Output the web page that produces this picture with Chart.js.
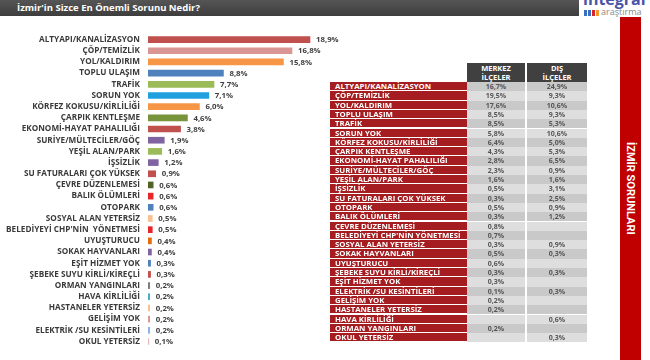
<!DOCTYPE html>
<html>
<head>
<meta charset="utf-8">
<script src="https://cdn.jsdelivr.net/npm/chart.js@4.4.0/dist/chart.umd.min.js"></script>
<style>
  html, body { margin:0; padding:0; background:#fff; width:650px; height:360px; overflow:hidden; font-family:"Open Sans", sans-serif; }
  #titlebar { position:absolute; left:0; top:0; width:579px; height:16px; background:linear-gradient(#555,#3d3d3d); }
  #title { position:absolute; left:17px; top:1px; color:#fff; font:bold 9.5px "Open Sans", sans-serif; line-height:14px; white-space:nowrap; }
  #chartWrap { position:absolute; left:0; top:0; width:340px; height:360px; }
  #logo1 { position:absolute; left:583px; top:-9px; font:bold 16px "Open Sans", sans-serif; color:#4a55a8; line-height:16px; white-space:nowrap; }
  #logo2 { position:absolute; left:601px; top:6px; font:9px "Open Sans", sans-serif; color:#8a8a8a; line-height:12px; }
  .lb { position:absolute; top:10px; width:3px; height:6px; }
  #side { position:absolute; left:620px; top:17px; width:21px; height:343px; background:#c00000; }
  #sideText { position:absolute; left:620px; top:142px; width:21px; writing-mode:vertical-rl; color:#fff; font:bold 11px Roboto, sans-serif; line-height:21px; text-align:center; white-space:nowrap; }
  .cell { position:absolute; box-sizing:border-box; white-space:nowrap; overflow:hidden; }
  .lab { background:#a51d20; color:#fff; font:bold 7.8px "Open Sans", sans-serif; padding-left:5px; border-bottom:1px solid #fff; }
  .val { color:#555; font:bold 7px "Open Sans", sans-serif; text-align:center; }
  .hdr { background:#404040; color:#fff; font:bold 7.5px "Open Sans", sans-serif; text-align:center; line-height:8.5px; padding-top:1px; }
</style>
</head>
<body>
<div id="titlebar"></div>
<div id="title">İzmir'in Sizce En Önemli Sorunu Nedir?</div>
<div id="logo1">integral</div>
<div class="lb" style="left:584px;background:#3b6fc1"></div>
<div class="lb" style="left:588px;background:#3b6fc1"></div>
<div class="lb" style="left:592px;background:#d7262b"></div>
<div class="lb" style="left:596px;background:#f39a2b"></div>
<div id="logo2">araştırma</div>
<div id="side"></div>
<div id="sideText">İZMİR SORUNLARI</div>
<div id="chartWrap"><canvas id="c" width="340" height="360"></canvas></div>
<div id="table"></div>
<script>
// ---- Chart data ----
const categories = [
  "ALTYAPI/KANALİZASYON","ÇÖP/TEMİZLİK","YOL/KALDIRIM","TOPLU ULAŞIM","TRAFİK","SORUN YOK",
  "KÖRFEZ KOKUSU/KİRLİLİĞİ","ÇARPIK KENTLEŞME","EKONOMİ-HAYAT PAHALILIĞI","SURİYE/MÜLTECİLER/GÖÇ",
  "YEŞİL ALAN/PARK","İŞSİZLİK","SU FATURALARI ÇOK YÜKSEK","ÇEVRE DÜZENLEMESİ","BALIK ÖLÜMLERİ",
  "OTOPARK","SOSYAL ALAN YETERSİZ","BELEDİYEYİ CHP'NİN  YÖNETMESİ","UYUŞTURUCU","SOKAK HAYVANLARI",
  "EŞİT HİZMET YOK","ŞEBEKE SUYU KİRLİ/KİREÇLİ","ORMAN YANGINLARI","HAVA KİRLİLİĞİ",
  "HASTANELER YETERSİZ","GELİŞİM YOK","ELEKTRİK /SU KESİNTİLERİ","OKUL YETERSİZ"
];
const values = [18.9,16.8,15.8,8.8,7.7,7.1,6.0,4.6,3.8,1.9,1.6,1.2,0.9,0.6,0.6,0.6,0.5,0.5,0.4,0.4,0.3,0.3,0.2,0.2,0.2,0.2,0.2,0.1];
const barColors = [
  "#c0504d","#da9694","#f79646","#4f81bd","#9bbb59","#21a0e0","#f79646","#77933c","#c0504d","#8064a2",
  "#9bbb59","#8064a2","#c0504d","#4f6228","#e8252b","#4f81bd","#fabf8f","#e8252b","#e46c0a","#8064a2",
  "#4f81bd","#c0504d","#7f7f7f","#4bacc6","#fac090","#d99694","#8eb4e3","#e6b9b8"
];

// ---- Table data ----
const tableLabels = [
  "ALTYAPI/KANALİZASYON","ÇÖP/TEMİZLİK","YOL/KALDIRIM","TOPLU ULAŞIM","TRAFİK","SORUN YOK",
  "KÖRFEZ KOKUSU/KİRLİLİĞİ","ÇARPIK KENTLEŞME","EKONOMİ-HAYAT PAHALILIĞI","SURİYE/MÜLTECİLER/GÖÇ",
  "YEŞİL ALAN/PARK","İŞSİZLİK","SU FATURALARI ÇOK YÜKSEK","OTOPARK","BALIK ÖLÜMLERİ","ÇEVRE DÜZENLEMESİ",
  "BELEDİYEYİ CHP'NİN  YÖNETMESİ","SOSYAL ALAN YETERSİZ","SOKAK HAYVANLARI","UYUŞTURUCU",
  "ŞEBEKE SUYU KİRLİ/KİREÇLİ","EŞİT HİZMET YOK","ELEKTRİK /SU KESİNTİLERİ","GELİŞİM YOK",
  "HASTANELER YETERSİZ","HAVA KİRLİLİĞİ","ORMAN YANGINLARI","OKUL YETERSİZ"
];
const merkezValues = [16.7,19.5,17.6,8.5,8.5,5.8,6.4,4.3,2.8,2.3,1.6,0.5,0.3,0.5,0.3,0.8,0.7,0.3,0.5,0.6,0.3,0.3,0.1,0.2,0.2,null,0.2,null];
const disValues = [24.9,9.3,10.6,9.3,5.3,10.6,5.0,5.3,6.5,0.9,1.6,3.1,2.5,0.9,1.2,null,null,0.9,0.3,null,0.3,null,0.3,null,null,0.6,null,0.3];
const tableHeaders = ["MERKEZ\nİLÇELER","DIŞ\nİLÇELER"];

const fmt = v => v.toFixed(1).replace('.', ',') + '%';

// ---- Build table ----
(function(){
  const t = document.getElementById('table');
  const x0 = 330, wLab = 137, x1 = 467, w1 = 58, x2 = 527, w2 = 60;
  const top0 = 82, rh = 9.3, hTop = 63;
  const add = (cls, x, y, w, h, text, bg) => {
    const d = document.createElement('div');
    d.className = 'cell ' + cls;
    d.style.left = x + 'px'; d.style.top = y + 'px';
    d.style.width = w + 'px'; d.style.height = h + 'px';
    if (cls !== 'hdr') d.style.lineHeight = h + 'px';
    if (bg) d.style.background = bg;
    d.innerText = text;
    t.appendChild(d);
  };
  add('hdr', x1, hTop, w1, top0 - hTop, tableHeaders[0]);
  add('hdr', x2, hTop, w2, top0 - hTop, tableHeaders[1]);
  tableLabels.forEach((lab, i) => {
    const y = top0 + i * rh;
    const bg = i % 2 === 0 ? '#c9c9c9' : '#dedede';
    add('lab', x0, y, wLab, rh, lab);
    add('val', x1, y, w1, rh, merkezValues[i] == null ? '' : fmt(merkezValues[i]), bg);
    add('val', x2, y, w2, rh, disValues[i] == null ? '' : fmt(disValues[i]), bg);
  });
})();

// ---- Chart ----
const valueLabels = {
  id: 'valueLabels',
  afterDatasetsDraw(chart) {
    const ctx = chart.ctx;
    const meta = chart.getDatasetMeta(0);
    ctx.save();
    ctx.font = 'bold 7.8px "Open Sans"';
    ctx.fillStyle = '#404040';
    ctx.textBaseline = 'middle';
    ctx.textAlign = 'left';
    meta.data.forEach((bar, i) => ctx.fillText(fmt(values[i]), bar.x + 6, bar.y + 0.5));
    ctx.restore();
  }
};

new Chart(document.getElementById('c'), {
  type: 'bar',
  data: {
    labels: categories,
    datasets: [{ data: values, backgroundColor: barColors, barThickness: 6, borderWidth: 0 }]
  },
  options: {
    indexAxis: 'y',
    responsive: false,
    animation: false,
    layout: { padding: { top: 34, bottom: 2, left: 0, right: 0 } },
    plugins: { legend: { display: false }, tooltip: { enabled: false } },
    scales: {
      x: { display: false, min: 0, max: 22.4 },
      y: {
        grid: { display: false, drawTicks: false },
        border: { display: false },
        ticks: { autoSkip: false, padding: 8, color: '#3a3a3a', font: { family: 'Open Sans', weight: 'bold', size: 8.2 } },
        afterFit(scale) { scale.width = 148; }
      }
    }
  },
  plugins: [valueLabels]
});
</script>
</body>
</html>
